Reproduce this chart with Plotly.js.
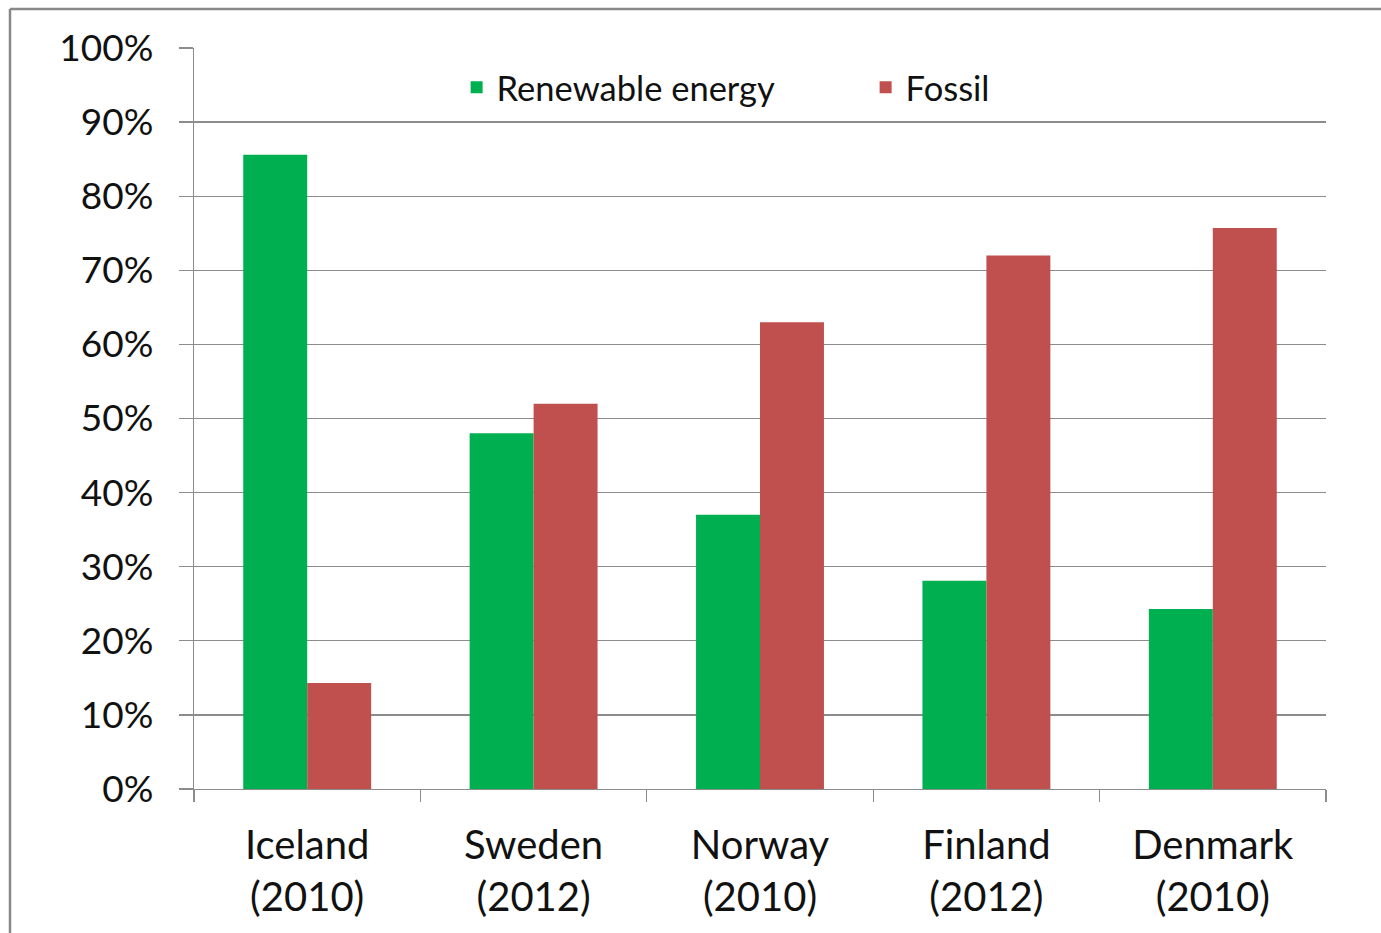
<!DOCTYPE html>
<html>
<head>
<meta charset="utf-8">
<script src="https://cdn.plot.ly/plotly-3.0.1.min.js"></script>
<style>
html,body{margin:0;padding:0;background:#fff;}
#chart{width:1381px;height:933px;}
</style>
</head>
<body>
<div id="chart"></div>
<script>
const categories = ["Iceland<br>(2010)", "Sweden<br>(2012)", "Norway<br>(2010)", "Finland<br>(2012)", "Denmark<br>(2010)"];
const renewable = [0.856, 0.48, 0.37, 0.281, 0.243];
const fossil = [0.143, 0.52, 0.63, 0.72, 0.757];
const seriesNames = ["Renewable energy", "Fossil"];
const yTicks = [0, 0.1, 0.2, 0.3, 0.4, 0.5, 0.6, 0.7, 0.8, 0.9, 1.0];

const font = "Lato, 'Open Sans', sans-serif";
const traces = [
  {type: "bar", name: seriesNames[0], x: categories, y: renewable, marker: {color: "#00B050"}},
  {type: "bar", name: seriesNames[1], x: categories, y: fossil, marker: {color: "#C0504D"}}
];
const layout = {
  width: 1381, height: 933,
  margin: {l: 194, r: 55, t: 48, b: 144},
  paper_bgcolor: "#fff", plot_bgcolor: "#fff",
  barmode: "group", bargap: 0.435, bargroupgap: 0,
  font: {family: font, color: "#111", size: 34},
  showlegend: true,
  legend: {orientation: "h", x: 0.232, y: 0.947, xanchor: "left", yanchor: "middle",
           entrywidth: 364, entrywidthmode: "pixels", bgcolor: "rgba(0,0,0,0)",
           font: {family: font, size: 34.5, color: "#111"}, traceorder: "normal"},
  xaxis: {type: "category", showgrid: false, showline: true, linecolor: "#8c8c8c", linewidth: 1.3,
          ticks: "outside", tickson: "boundaries", ticklen: 12, tickcolor: "#8c8c8c", tickwidth: 1.3,
          ticklabelstandoff: 21,
          tickfont: {family: font, size: 40, color: "#111"}, fixedrange: true},
  yaxis: {range: [0, 1], tickvals: yTicks, tickformat: ".0%", showgrid: true, gridcolor: "#8c8c8c", gridwidth: 1.3,
          showline: true, linecolor: "#8c8c8c", linewidth: 1.3, zeroline: false,
          ticks: "outside", ticklen: 14, tickcolor: "#8c8c8c", tickwidth: 1.3, ticklabelstandoff: 18,
          tickfont: {family: font, size: 37, color: "#111"}, fixedrange: true},
  shapes: [
    {type: "line", xref: "paper", yref: "paper", x0: (10-194)/1132, x1: (10-194)/1132, y0: -0.3, y1: 1 + (48-9)/741,
     line: {color: "#888", width: 2.5}},
    {type: "line", xref: "paper", yref: "paper", x0: (10-194)/1132, x1: 1.1, y0: 1 + (48-9)/741, y1: 1 + (48-9)/741,
     line: {color: "#888", width: 2.5}}
  ]
};
Plotly.newPlot("chart", traces, layout, {displayModeBar: false, staticPlot: true});
</script>
</body>
</html>
